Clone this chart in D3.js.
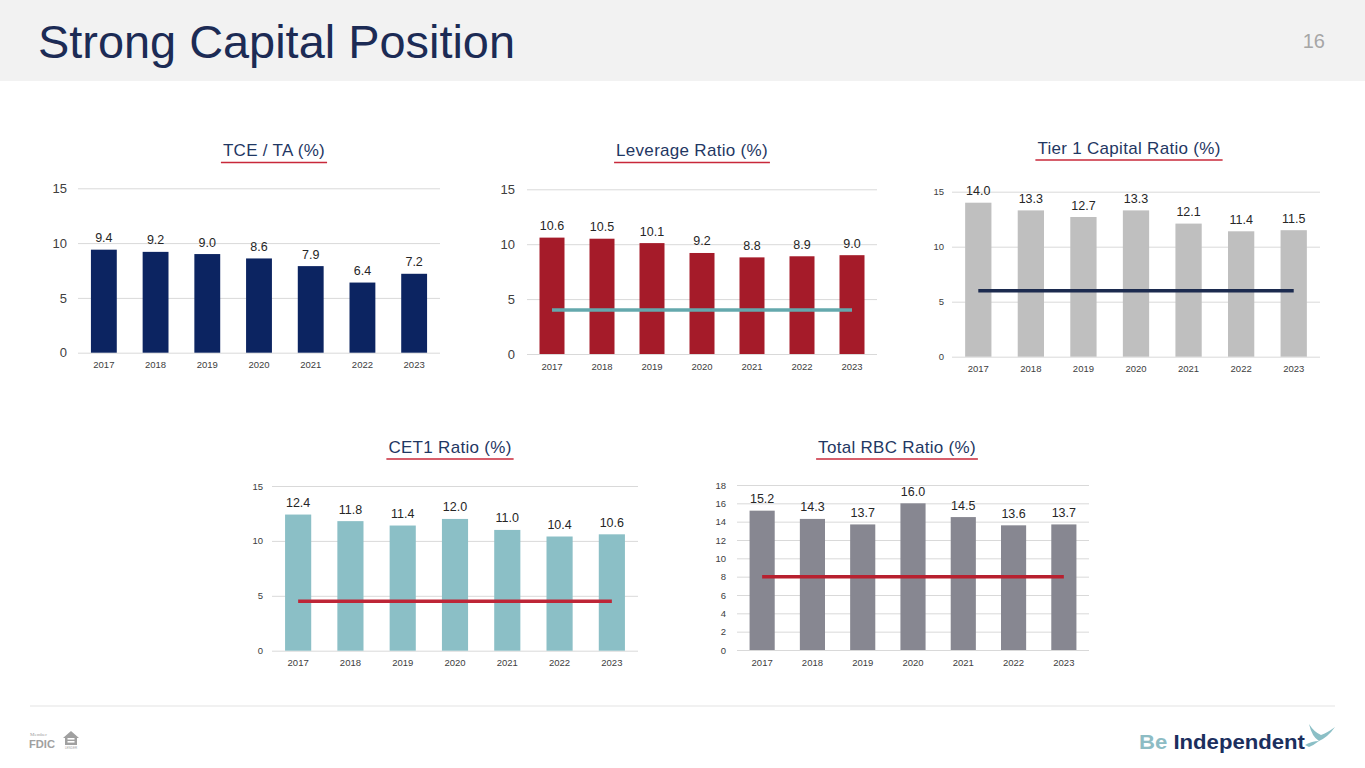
<!DOCTYPE html>
<html>
<head>
<meta charset="utf-8">
<script src="https://cdn.jsdelivr.net/npm/d3@7"></script>
<style>
  html, body { margin: 0; padding: 0; background: #ffffff; }
  svg { display: block; font-family: "Liberation Sans", Arial, sans-serif; }
</style>
</head>
<body>
<svg width="1365" height="768"></svg>
<script>
// chart values
const years = ["2017", "2018", "2019", "2020", "2021", "2022", "2023"];
const tceValues = [9.4, 9.2, 9.0, 8.6, 7.9, 6.4, 7.2];
const leverageValues = [10.6, 10.5, 10.1, 9.2, 8.8, 8.9, 9.0];
const tier1Values = [14.0, 13.3, 12.7, 13.3, 12.1, 11.4, 11.5];
const cet1Values = [12.4, 11.8, 11.4, 12.0, 11.0, 10.4, 10.6];
const rbcValues = [15.2, 14.3, 13.7, 16.0, 14.5, 13.6, 13.7];
// regulatory minimum lines
const leverageMin = 4;
const tier1Min = 6;
const cet1Min = 4.5;
const rbcMin = 8;
const ticks15 = [0, 5, 10, 15];
const ticks18 = [0, 2, 4, 6, 8, 10, 12, 14, 16, 18];

const svg = d3.select("svg");

// header band
svg.append("rect").attr("x", 0).attr("y", 0).attr("width", 1365).attr("height", 81).attr("fill", "#f2f2f2");
svg.append("text").attr("x", 38).attr("y", 58)
    .attr("font-size", "46px").attr("fill", "#1c2b55")
    .attr("textLength", 477).attr("lengthAdjust", "spacingAndGlyphs")
    .text("Strong Capital Position");
svg.append("text").attr("x", 1325).attr("y", 48)
    .attr("text-anchor", "end").attr("font-size", "20px").attr("fill", "#a6a6a6")
    .text("16");

function drawChart(cfg) {
    const g = svg.append("g");
    const w = cfg.x1 - cfg.x0;

    let x = d3.scaleBand()
        .domain(years)
        .range([cfg.x0, cfg.x1])
        .paddingInner(0.5)
        .paddingOuter(0.25);
    let y = d3.scaleLinear()
        .domain([0, cfg.max])
        .range([cfg.yBot, cfg.yTop]);

    // y axis with gridlines
    let yAxis = g.append("g")
        .attr("transform", "translate(" + cfg.x0 + ",0)")
        .call(d3.axisLeft(y).tickValues(cfg.ticks).tickSize(-w).tickPadding(cfg.gap));
    yAxis.select(".domain").remove();
    yAxis.selectAll("line").attr("stroke", "#d9d9d9");
    yAxis.selectAll("text")
        .attr("font-family", "Liberation Sans, Arial, sans-serif")
        .attr("font-size", cfg.yFont + "px").attr("fill", "#404040");

    // x axis
    let xAxis = g.append("g")
        .attr("transform", "translate(0," + cfg.yBot + ")")
        .call(d3.axisBottom(x).tickSize(0).tickPadding(9));
    xAxis.select(".domain").remove();
    xAxis.selectAll("text")
        .attr("font-family", "Liberation Sans, Arial, sans-serif")
        .attr("font-size", "9.5px").attr("fill", "#404040");

    // bars
    g.selectAll(".bar")
        .data(cfg.values)
        .enter()
        .append("rect")
        .attr("class", "bar")
        .attr("x", function(d, i) { return x(years[i]); })
        .attr("width", x.bandwidth())
        .attr("y", function(d) { return y(d); })
        .attr("height", function(d) { return cfg.yBot - y(d); })
        .attr("fill", cfg.color);

    // minimum line
    if (cfg.minValue !== undefined) {
        g.append("line")
            .attr("x1", x(years[0]) + x.bandwidth() / 2)
            .attr("x2", x(years[years.length - 1]) + x.bandwidth() / 2)
            .attr("y1", y(cfg.minValue))
            .attr("y2", y(cfg.minValue))
            .attr("stroke", cfg.lineColor)
            .attr("stroke-width", 3.5);
    }

    // value labels
    g.selectAll(".lbl")
        .data(cfg.values)
        .enter()
        .append("text")
        .attr("class", "lbl")
        .attr("x", function(d, i) { return x(years[i]) + x.bandwidth() / 2; })
        .attr("y", function(d) { return y(d) - 7.5; })
        .attr("text-anchor", "middle")
        .attr("font-size", "12.5px")
        .attr("fill", "#262626")
        .text(function(d) { return d.toFixed(1); });

    // title with red underline
    let t = g.append("text")
        .attr("x", cfg.titleX).attr("y", cfg.titleY)
        .attr("text-anchor", "middle")
        .attr("font-size", "17px")
        .attr("letter-spacing", "0.3px")
        .attr("fill", "#1f3763")
        .text(cfg.title);
    let tw = t.node().getComputedTextLength();
    g.append("line")
        .attr("x1", cfg.titleX - tw / 2 - 2).attr("x2", cfg.titleX + tw / 2 + 2)
        .attr("y1", cfg.titleY + 6.5).attr("y2", cfg.titleY + 6.5)
        .attr("stroke", "#c8283a").attr("stroke-width", 1.6);
}

drawChart({ title: "TCE / TA (%)", values: tceValues, color: "#0c2461",
    x0: 78, x1: 440, yTop: 188.3, yBot: 352.7, max: 15, ticks: ticks15, gap: 11, yFont: 13,
    titleX: 274, titleY: 156 });
drawChart({ title: "Leverage Ratio (%)", values: leverageValues, color: "#a51b29",
    minValue: leverageMin, lineColor: "#64a8ad",
    x0: 527, x1: 877, yTop: 189.3, yBot: 354, max: 15, ticks: ticks15, gap: 12, yFont: 13,
    titleX: 692, titleY: 156 });
drawChart({ title: "Tier 1 Capital Ratio (%)", values: tier1Values, color: "#bfbfbf",
    minValue: tier1Min, lineColor: "#1c2b4f",
    x0: 952, x1: 1320, yTop: 191.7, yBot: 356.7, max: 15, ticks: ticks15, gap: 8, yFont: 9.5,
    titleX: 1129, titleY: 153.5 });
drawChart({ title: "CET1 Ratio (%)", values: cet1Values, color: "#8bbfc6",
    minValue: cet1Min, lineColor: "#be2637",
    x0: 272, x1: 638, yTop: 486, yBot: 650.7, max: 15, ticks: ticks15, gap: 9, yFont: 9.5,
    titleX: 450, titleY: 452.5 });
drawChart({ title: "Total RBC Ratio (%)", values: rbcValues, color: "#878791",
    minValue: rbcMin, lineColor: "#b8202f",
    x0: 737, x1: 1089, yTop: 485, yBot: 650, max: 18, ticks: ticks18, gap: 11, yFont: 9.5,
    titleX: 897, titleY: 452.5 });

// footer
svg.append("line").attr("x1", 30).attr("x2", 1335).attr("y1", 706).attr("y2", 706)
    .attr("stroke", "#e3e3e3").attr("stroke-width", 1);

let fdic = svg.append("g").attr("fill", "#a0a0a0");
fdic.append("text").attr("x", 30).attr("y", 736).attr("font-size", "5px").attr("font-family", "Liberation Serif, serif").text("Member");
fdic.append("text").attr("x", 29).attr("y", 748).attr("font-size", "11px").attr("font-weight", "bold")
    .attr("textLength", 26).attr("lengthAdjust", "spacingAndGlyphs").text("FDIC");
fdic.append("path").attr("d", "M63,738 L71,731 L79,738 L77,738 L77,745 L65,745 L65,738 Z");
fdic.append("rect").attr("x", 67.5).attr("y", 738).attr("width", 7).attr("height", 1.6).attr("fill", "#ffffff");
fdic.append("rect").attr("x", 67.5).attr("y", 741).attr("width", 7).attr("height", 1.6).attr("fill", "#ffffff");
fdic.append("text").attr("x", 71).attr("y", 749).attr("text-anchor", "middle").attr("font-size", "3px").text("LENDER");

let logo = svg.append("text").attr("x", 1139).attr("y", 749)
    .attr("font-size", "20px").attr("font-weight", "bold")
    .attr("textLength", 166).attr("lengthAdjust", "spacingAndGlyphs");
logo.append("tspan").attr("fill", "#8dbcc4").text("Be ");
logo.append("tspan").attr("fill", "#1b2f5e").text("Independent");
svg.append("path")
    .attr("d", "M1309,724 Q1312,737 1319,741 Q1328,737 1335,727 Q1327,733 1321,735 Q1314,732 1309,724 Z M1305,745 Q1312,741 1319,741 Q1314,745 1309,747 Z")
    .attr("fill", "#8bbfc6");
</script>
</body>
</html>
